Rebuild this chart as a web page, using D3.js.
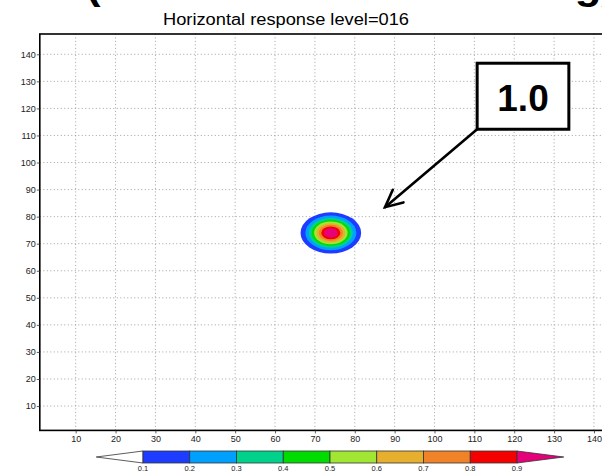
<!DOCTYPE html>
<html lang="en">
<head>
    <meta charset="UTF-8">
    <title>Horizontal response level=016</title>
    <script src="https://cdn.jsdelivr.net/npm/d3@7"></script>
    <style>
        body {
            margin: 0;
            padding: 0;
            background: #fff;
        }
        svg {
            display: block;
        }
        .tick-label {
            font-family: "Liberation Sans", Arial, sans-serif;
            font-size: 9px;
            fill: #222;
        }
        .grid line {
            stroke: #8a8a8a;
            stroke-width: 0.8;
            stroke-dasharray: 1, 2.5;
        }
    </style>
</head>
<body>
<svg id="chart" width="602" height="476"></svg>
<script>
    // axis ticks
    const xTicks = [10, 20, 30, 40, 50, 60, 70, 80, 90, 100, 110, 120, 130, 140];
    const yTicks = [10, 20, 30, 40, 50, 60, 70, 80, 90, 100, 110, 120, 130, 140];

    // single observation response: centre and contour radius (grid units) per level
    const blobCenter = [74, 74];
    const levels = [0.1, 0.2, 0.3, 0.4, 0.5, 0.6, 0.7, 0.8, 0.9];
    const levelRadius = [7.6, 6.4, 5.5, 4.8, 4.2, 3.6, 3.0, 2.4, 1.7];
    const levelColors = ['#1e3cff', '#00a0ff', '#00d28c', '#00dc00', '#a0e632',
                         '#e6af2d', '#f08228', '#f50000', '#e6007a'];

    // annotation (grid units)
    const boxCorners = [[110.7, 136.7], [133.7, 112.3]];
    const arrowTip = [87.6, 83.5];
    const boxText = '1.0';

    const svg = d3.select('#chart');

    const x = d3.scaleLinear().domain([1, 145]).range([39.8, 613.9]);
    const y = d3.scaleLinear().domain([1, 147.5]).range([430.4, 34]);

    // big cropped heading at the very top
    svg.append('text')
        .attr('x', 86)
        .attr('y', -1)
        .attr('textLength', 530)
        .attr('lengthAdjust', 'spacingAndGlyphs')
        .style('font-family', '"Liberation Sans", Arial, sans-serif')
        .style('font-weight', 'bold')
        .style('font-size', '40px')
        .text('(One observation testing)');

    svg.append('text')
        .attr('x', 286)
        .attr('y', 25)
        .attr('text-anchor', 'middle')
        .attr('textLength', 246)
        .attr('lengthAdjust', 'spacingAndGlyphs')
        .style('font-family', '"Liberation Sans", Arial, sans-serif')
        .style('font-size', '16px')
        .text('Horizontal response level=016');

    // grid
    const grid = svg.append('g').attr('class', 'grid');
    grid.selectAll('line.v')
        .data(xTicks)
        .join('line')
        .attr('class', 'v')
        .attr('x1', d => x(d)).attr('x2', d => x(d))
        .attr('y1', y.range()[0]).attr('y2', y.range()[1]);
    grid.selectAll('line.h')
        .data(yTicks)
        .join('line')
        .attr('class', 'h')
        .attr('y1', d => y(d)).attr('y2', d => y(d))
        .attr('x1', x.range()[0]).attr('x2', x.range()[1]);

    // filled contours, outermost first
    const blobs = svg.append('g');
    levels.forEach((lv, i) => {
        const r = levelRadius[i];
        blobs.append('ellipse')
            .attr('cx', x(blobCenter[0]))
            .attr('cy', y(blobCenter[1]))
            .attr('rx', x(blobCenter[0] + r) - x(blobCenter[0]))
            .attr('ry', y(blobCenter[1]) - y(blobCenter[1] + r))
            .attr('fill', levelColors[i]);
    });

    // frame
    svg.append('rect')
        .attr('x', x.range()[0])
        .attr('y', y.range()[1])
        .attr('width', x.range()[1] - x.range()[0])
        .attr('height', y.range()[0] - y.range()[1])
        .attr('fill', 'none')
        .attr('stroke', '#000')
        .attr('stroke-width', 1.6);

    // axes
    const xAxis = svg.append('g')
        .attr('transform', `translate(0,${y.range()[0]})`)
        .call(d3.axisBottom(x).tickValues(xTicks).tickSize(3).tickPadding(2));
    const yAxis = svg.append('g')
        .attr('transform', `translate(${x.range()[0]},0)`)
        .call(d3.axisLeft(y).tickValues(yTicks).tickSize(3).tickPadding(1));
    [xAxis, yAxis].forEach(a => {
        a.select('.domain').remove();
        a.selectAll('.tick line').attr('stroke', '#333').attr('stroke-width', 0.8);
        a.selectAll('.tick text').attr('class', 'tick-label').attr('font-size', null).attr('font-family', null);
    });

    // colour bar
    const cb = d3.scaleLinear().domain([levels[0], levels[levels.length - 1]]).range([143, 517]);
    const cbTop = 451, cbH = 12, cbMid = cbTop + cbH / 2;
    const segW = cb(levels[1]) - cb(levels[0]);
    const cbar = svg.append('g');

    cbar.append('path')
        .attr('d', `M${cb(levels[0])},${cbTop} L${cb(levels[0]) - segW},${cbMid} L${cb(levels[0])},${cbTop + cbH} Z`)
        .attr('fill', '#fff')
        .attr('stroke', '#333')
        .attr('stroke-width', 0.8);

    cbar.selectAll('rect')
        .data(levels.slice(0, -1))
        .join('rect')
        .attr('x', d => cb(d))
        .attr('y', cbTop)
        .attr('width', segW)
        .attr('height', cbH)
        .attr('fill', (d, i) => levelColors[i])
        .attr('stroke', '#333')
        .attr('stroke-width', 0.8);

    const last = levels[levels.length - 1];
    cbar.append('path')
        .attr('d', `M${cb(last)},${cbTop} L${cb(last) + segW},${cbMid} L${cb(last)},${cbTop + cbH} Z`)
        .attr('fill', levelColors[levelColors.length - 1])
        .attr('stroke', '#333')
        .attr('stroke-width', 0.8);

    cbar.selectAll('text')
        .data(levels)
        .join('text')
        .attr('class', 'tick-label')
        .attr('x', d => cb(d))
        .attr('y', 471)
        .attr('text-anchor', 'middle')
        .style('font-size', '7.5px')
        .text(d => d.toFixed(1));

    // annotation box + arrow
    const bx0 = x(boxCorners[0][0]), by0 = y(boxCorners[0][1]);
    const bx1 = x(boxCorners[1][0]), by1 = y(boxCorners[1][1]);
    const tx = x(arrowTip[0]), ty = y(arrowTip[1]);

    svg.append('rect')
        .attr('x', bx0).attr('y', by0)
        .attr('width', bx1 - bx0).attr('height', by1 - by0)
        .attr('fill', '#fff')
        .attr('stroke', '#000')
        .attr('stroke-width', 3);

    svg.append('text')
        .attr('x', (bx0 + bx1) / 2)
        .attr('y', by0 + 48)
        .attr('text-anchor', 'middle')
        .style('font-family', '"Liberation Sans", Arial, sans-serif')
        .style('font-weight', 'bold')
        .style('font-size', '37px')
        .text(boxText);

    const ang = Math.atan2(ty - by1, tx - bx0);
    const headLen = 19, spread = 0.45;
    const arrow = svg.append('g')
        .attr('stroke', '#000')
        .attr('stroke-width', 2.6)
        .attr('stroke-linecap', 'round')
        .attr('fill', 'none');
    arrow.append('line')
        .attr('x1', bx0).attr('y1', by1)
        .attr('x2', tx).attr('y2', ty);
    arrow.append('path')
        .attr('d', `M${tx - headLen * Math.cos(ang - spread)},${ty - headLen * Math.sin(ang - spread)}
                    L${tx},${ty}
                    L${tx - headLen * Math.cos(ang + spread)},${ty - headLen * Math.sin(ang + spread)}`);
</script>
</body>
</html>
